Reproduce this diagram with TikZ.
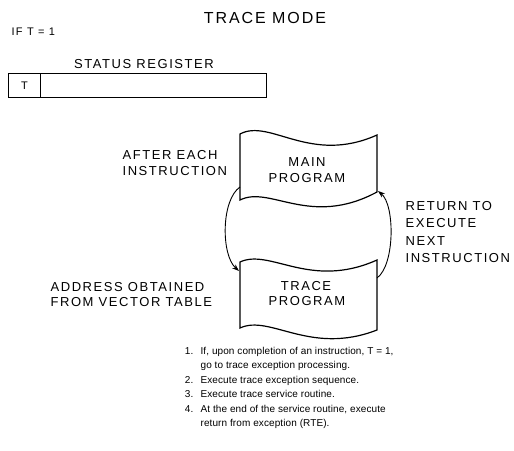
\documentclass[tikz,border=0pt]{standalone}
\usepackage{fontspec}
\setmainfont{Liberation Sans}
\newfontfamily\lsfont[LetterSpace=12]{Liberation Sans}
\newfontfamily\lstext[LetterSpace=1]{Liberation Sans}
\usetikzlibrary{arrows.meta}
\begin{document}
\begin{tikzpicture}[x=1pt,y=-1pt,line width=1.2pt,
  titletext/.style={font=\lsfont\fontsize{16}{18}\selectfont, inner sep=0pt},
  smalltext/.style={font=\lsfont\fontsize{11}{13}\selectfont, inner sep=0pt},
  captext/.style={font=\lsfont\fontsize{13}{15}\selectfont, inner sep=0pt},
  listtext/.style={font=\lstext\fontsize{10}{12}\selectfont, inner sep=0pt},
  regcell/.style={draw, anchor=north west, inner sep=0pt, minimum height=24pt, font=\lsfont\fontsize{11}{13}\selectfont},
  wavebox/.style={draw, line width=1.2pt},
  flow/.style={line width=0.9pt, -{Stealth[length=7pt,width=5pt]}}]
\useasboundingbox (0,0) rectangle (514,450);

% title and header
\node[titletext, anchor=base] (title) at (265,23) {TRACE MODE};
\node[smalltext, anchor=base west] (ift) at (11,35) {IF T = 1};
\node[captext, anchor=base] (sr) at (144,68) {STATUS REGISTER};

% status register
\node[regcell, minimum width=32pt] (tcell) at (8,73) {T};
\node[regcell, minimum width=226pt] (rest) at (40,73) {};

% main program shape
\draw[wavebox] (240,134) .. controls (270,118) and (310,165) .. (377,135)
  -- (377,192) .. controls (310,228) and (270,185) .. (240,200) -- cycle;
\node[captext, anchor=base] (m1) at (307,166) {MAIN};
\node[captext, anchor=base] (m2) at (307,182) {PROGRAM};

% trace program shape
\draw[wavebox] (240,262) .. controls (270,248) and (310,290) .. (377,260)
  -- (377,330) .. controls (310,356) and (270,314) .. (240,328) -- cycle;
\node[captext, anchor=base] (t1) at (306,290) {TRACE};
\node[captext, anchor=base] (t2) at (307,305) {PROGRAM};

% connection points on the shapes
\coordinate (mainL) at (240,187);
\coordinate (traceL) at (239,271);
\coordinate (traceR) at (377,278);
\coordinate (mainR) at (378,191);

\draw[flow] (mainL) .. controls (221,200) and (221,255) .. (traceL);
\draw[flow] (traceR) .. controls (395,265) and (395,205) .. (mainR);

% labels
\node[captext, anchor=base west] (a1) at (122,159) {AFTER EACH};
\node[captext, anchor=base west] (a2) at (122,175) {INSTRUCTION};
\node[captext, anchor=base west] (b1) at (50,291) {ADDRESS OBTAINED};
\node[captext, anchor=base west] (b2) at (50,306) {FROM VECTOR TABLE};
\node[captext, anchor=base west] (r1) at (405,210) {RETURN TO};
\node[captext, anchor=base west] (r2) at (405,227.5) {EXECUTE};
\node[captext, anchor=base west] (r3) at (405,245) {NEXT};
\node[captext, anchor=base west] (r4) at (405,262.5) {INSTRUCTION};

% numbered list
\node[listtext, anchor=base east] (n1) at (194,354) {1.};
\node[listtext, anchor=base west] (l1) at (200,354) {If, upon completion of an instruction, T = 1,};
\node[listtext, anchor=base west] (l1b) at (200,368.5) {go to trace exception processing.};
\node[listtext, anchor=base east] (n2) at (194,383) {2.};
\node[listtext, anchor=base west] (l2) at (200,383) {Execute trace exception sequence.};
\node[listtext, anchor=base east] (n3) at (194,397.5) {3.};
\node[listtext, anchor=base west] (l3) at (200,397.5) {Execute trace service routine.};
\node[listtext, anchor=base east] (n4) at (194,412) {4.};
\node[listtext, anchor=base west] (l4) at (200,412) {At the end of the service routine, execute};
\node[listtext, anchor=base west] (l4b) at (200,426.5) {return from exception (RTE).};
\end{tikzpicture}
\end{document}
